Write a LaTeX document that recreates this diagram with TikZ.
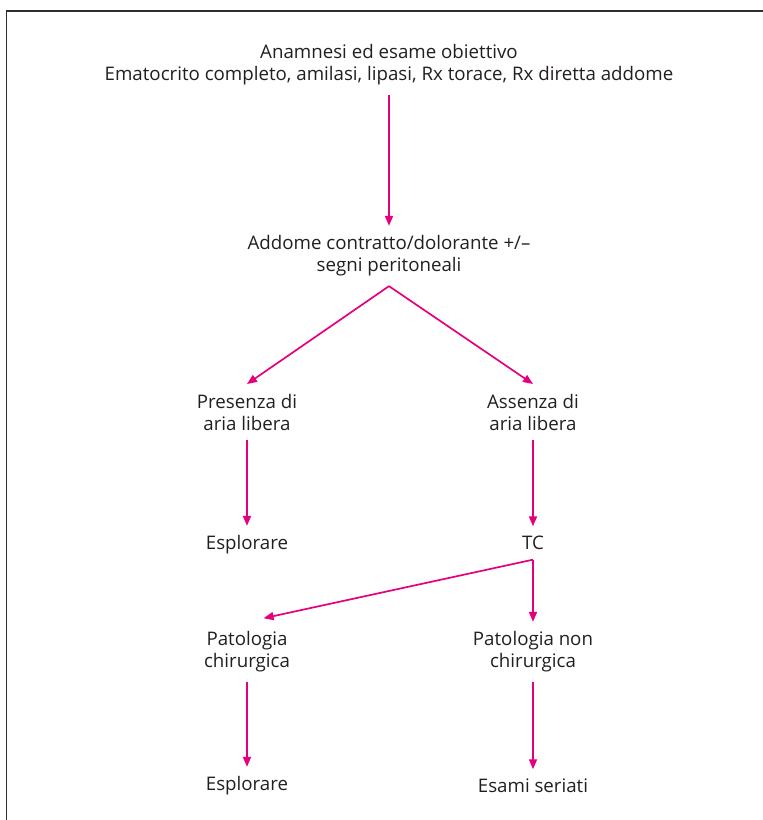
\documentclass[tikz,border=0pt]{standalone}
\usepackage{fontspec}
\setmainfont{Open Sans}
\usetikzlibrary{arrows.meta, positioning, calc}
\definecolor{cmagenta}{HTML}{E6007E}
\definecolor{cframe}{HTML}{2E2E2E}
\definecolor{ctext}{HTML}{231F20}
\tikzset{
  every picture/.style={line width=1.6pt},
  txt/.style={align=center, text=ctext, inner xsep=4pt, inner ysep=9pt, font=\fontsize{18.7}{22}\selectfont},
  arrow/.style={-{Triangle[length=10pt, width=8pt]}, draw=cmagenta, line width=1.7pt},
  frame/.style={draw=cframe, line width=1.3pt},
}

\begin{document}
\begin{tikzpicture}[x=1pt, y=-1pt]
  \useasboundingbox (0,0) rectangle (763,820);
  % open frame: top and left sides only
  \draw[frame] (6.5,820) -- (6.5,11) -- (763,11);
  % nodes
  \node[txt] (exam) at (389,65) {Anamnesi ed esame obiettivo\\Ematocrito completo, amilasi, lipasi, Rx torace, Rx diretta addome};
  \node[txt] (addome) at (389,256) {Addome contratto/dolorante +/--\\segni peritoneali};
  \node[txt] (presenza) at (247,412) {Presenza di\\aria libera};
  \node[txt] (assenza) at (533,412) {Assenza di\\aria libera};
  \node[txt] (esplA) at (247,545) {Esplorare};
  \node[txt] (tc) at (533,543) {TC};
  \node[txt] (patchir) at (247,652) {Patologia\\chirurgica};
  \node[txt] (patnon) at (533,652) {Patologia non\\chirurgica};
  \node[txt] (esplB) at (247,786) {Esplorare};
  \node[txt] (seriati) at (533,786) {Esami seriati};
  % connectors
  \draw[arrow] (exam.south) -- (addome.north);
  \draw[arrow] (addome.south) -- (presenza.north);
  \draw[arrow] (addome.south) -- (assenza.north);
  \draw[arrow] (presenza.south) -- (esplA.north);
  \draw[arrow] (assenza.south) -- (tc.north);
  \draw[arrow, shorten >=17pt] (tc.south) -- (patchir.north);
  \draw[arrow] (tc.south) -- (patnon.north);
  \draw[arrow] (patchir.south) -- (esplB.north);
  \draw[arrow] (patnon.south) -- (seriati.north);
\end{tikzpicture}
\end{document}
